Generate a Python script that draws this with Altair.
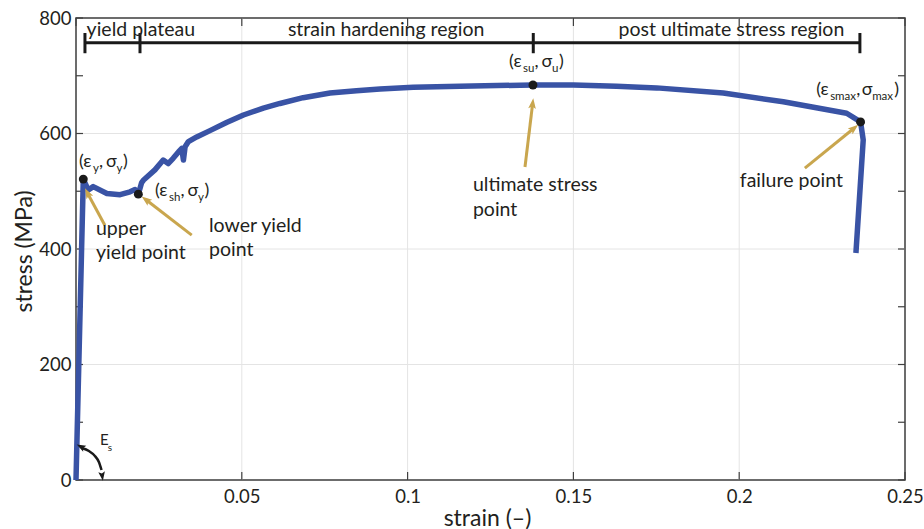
import math
import altair as alt
import pandas as pd

# ---------------- layout constants ----------------
W, H = 829, 462
X_MAX, Y_MAX = 0.25, 800
PX_X = W / X_MAX          # px per unit strain
PX_Y = H / Y_MAX          # px per MPa
FONT = "Lato, Open Sans, DejaVu Sans, sans-serif"
TXT = "#231F20"
BLUE = "#3953A5"
GOLD = "#C9A64E"

# ---------------- data ----------------
strain = [0.0, 0.0022, 0.0037, 0.0052, 0.0093, 0.0133, 0.0163, 0.0178, 0.0188,
          0.0198, 0.0203, 0.0238, 0.0263, 0.0278, 0.0293, 0.0309, 0.0319, 0.0324,
          0.0329, 0.0339, 0.0364, 0.0404, 0.0454, 0.0505, 0.0565, 0.0615, 0.0685,
          0.0766, 0.0846, 0.0917, 0.1017, 0.1158, 0.1270,
          0.1378, 0.1500, 0.1630, 0.1751, 0.1952, 0.2133, 0.2324, 0.2366, 0.2374, 0.2352]
stress = [0, 521, 502, 508, 496, 494, 499, 503, 495,
          515, 519, 537, 554, 548, 557, 568, 574, 554,
          577, 586, 594, 605, 619, 632, 644, 652, 662,
          670, 674, 677, 680, 682, 683,
          684, 684, 682, 679, 670, 655, 635, 620, 589, 393]

key_strain = [0.0022, 0.0188, 0.1378, 0.2366]
key_stress = [521, 495, 684, 620]

x_label_values = [0.05, 0.1, 0.15, 0.2, 0.25]
x_tick_values = [0, 0.05, 0.1, 0.15, 0.2, 0.25]
x_grid = [0.05, 0.1, 0.15, 0.2]
y_label_values = [0, 200, 400, 600, 800]
y_tick_values = [0, 100, 200, 300, 400, 500, 600, 700, 800]
y_grid = [200, 400, 600]

# region bracket
bracket_x = [0.0027, 0.0193, 0.1379, 0.2364]
bracket_y = 757
bracket_lo, bracket_hi = 739, 774
region_text = ["yield plateau", "strain hardening region", "post ultimate stress region"]
region_x = [0.0032, 0.0639, 0.1636]
region_y = [768, 768, 768]

# point symbol labels: anchor (strain, stress) and pieces (text, dx px, subscript?)
sym_x = [0.0009, 0.0238, 0.1306, 0.2232]
sym_y = [542, 492, 715, 667]
sym_parts = [
    [("(ε", 0, 0), ("y", 14, 1), (",", 20, 0), ("σ", 27, 0), ("y", 37.5, 1), (")", 44, 0)],
    [("(ε", 0, 0), ("sh", 14, 1), (",", 25.5, 0), ("σ", 32.5, 0), ("y", 43, 1), (")", 49.5, 0)],
    [("(ε", 0, 0), ("su", 14, 1), (",", 25.5, 0), ("σ", 32.5, 0), ("u", 43, 1), (")", 50, 0)],
    [("(ε", 0, 0), ("smax", 14, 1), (",", 40, 0), ("σ", 45.5, 0), ("max", 56, 1), (")", 78, 0)],
]

# descriptive annotations
note_text = ["upper", "yield point", "lower yield", "point", "ultimate stress", "point", "failure point"]
note_x = [0.0060, 0.0060, 0.0401, 0.0401, 0.1197, 0.1197, 0.2002]
note_y = [424, 383, 429, 388, 500, 458, 507]

# gold arrows: tail -> tip
arrow_tail_x = [0.0087, 0.0349, 0.1354, 0.2198]
arrow_tail_y = [441, 424, 542, 540]
arrow_tip_x = [0.0027, 0.0198, 0.1379, 0.2359]
arrow_tip_y = [505, 491, 661, 615]

# elastic modulus arc
es_arc_x = [0.0018, 0.0039, 0.0057, 0.0069, 0.0077]
es_arc_y = [55.4, 50.2, 41.6, 31.2, 17.3]
es_head_x = [0.0015, 0.0079]
es_head_y = [57.5, 7.0]
es_head_angle = [298, 172]
es_text = ["E", "s"]
es_text_x = [0.0072, 0.0096]
es_text_y = [60.6, 50.2]
es_text_size = [15, 10]

# ---------------- scales / axes ----------------
xs = alt.Scale(domain=[0, X_MAX], nice=False, zero=False)
ys = alt.Scale(domain=[0, Y_MAX], nice=False, zero=False)
x_axis = alt.Axis(values=x_label_values, format=".2~f", grid=False, ticks=False, domain=False,
                  labelFont=FONT, labelFontSize=18.5, labelColor=TXT, labelPadding=7,
                  labelFlush=False, labelOverlap=False,
                  title="strain (–)", titleFont=FONT, titleFontSize=23, titleFontWeight="normal",
                  titleColor=TXT, titleX=411, titleY=45, titleBaseline="alphabetic")
y_axis = alt.Axis(values=y_label_values, grid=False, ticks=False, domain=False,
                  labelFont=FONT, labelFontSize=18.5, labelColor=TXT, labelPadding=5,
                  labelFlush=False, labelOverlap=False, labelBaseline="middle",
                  title="stress (MPa)", titleFont=FONT, titleFontSize=23, titleFontWeight="normal",
                  titleColor=TXT, titleX=-52, titleY=233, titleBaseline="middle", titleAngle=270)


def X(f):
    return alt.X(f"{f}:Q", scale=xs, axis=x_axis)


def Y(f):
    return alt.Y(f"{f}:Q", scale=ys, axis=y_axis)


# ---------------- layers ----------------
grid_x = alt.Chart(pd.DataFrame({"x": x_grid})).mark_rule(color="#E4E4E4", strokeWidth=1).encode(x=X("x"))
grid_y = alt.Chart(pd.DataFrame({"y": y_grid})).mark_rule(color="#E4E4E4", strokeWidth=1).encode(y=Y("y"))

tick_style = dict(color="#404040", strokeWidth=1.2)
xt = pd.DataFrame({"x": x_tick_values})
yt = pd.DataFrame({"y": y_tick_values})
ticks_bottom = alt.Chart(xt).mark_rule(**tick_style).encode(x=X("x"), y=alt.value(H), y2=alt.value(H - 8))
ticks_top = alt.Chart(xt).mark_rule(**tick_style).encode(x=X("x"), y=alt.value(0), y2=alt.value(8))
ticks_left = alt.Chart(yt).mark_rule(**tick_style).encode(y=Y("y"), x=alt.value(0), x2=alt.value(7))
ticks_right = alt.Chart(yt).mark_rule(**tick_style).encode(y=Y("y"), x=alt.value(W), x2=alt.value(W - 7))

bracket_df = pd.DataFrame({"x": [bracket_x[0]], "x2": [bracket_x[-1]], "y": [bracket_y]})
bracket_line = alt.Chart(bracket_df).mark_rule(color="#1a1a1a", strokeWidth=3).encode(
    x=X("x"), x2="x2:Q", y=Y("y"))
bt_df = pd.DataFrame({"x": bracket_x, "y": [bracket_lo] * 4, "y2": [bracket_hi] * 4})
bracket_ticks = alt.Chart(bt_df).mark_rule(color="#1a1a1a", strokeWidth=3).encode(
    x=X("x"), y=Y("y"), y2="y2:Q")
region_df = pd.DataFrame({"x": region_x, "y": region_y, "t": region_text})
region_labels = alt.Chart(region_df).mark_text(
    align="left", baseline="alphabetic", font=FONT, fontSize=19.5, color=TXT).encode(
    x=X("x"), y=Y("y"), text="t:N")

curve_df = pd.DataFrame({"x": strain, "y": stress, "i": list(range(len(strain)))})
curve = alt.Chart(curve_df).mark_line(color=BLUE, strokeWidth=5.5, strokeJoin="round", strokeCap="butt").encode(
    x=X("x"), y=Y("y"), order="i:Q")

# arrows
HEAD_PATH = "M0,-1L0.7,0.9L0,0.5L-0.7,0.9Z"
HEAD_SIZE = 120
head_half = math.sqrt(HEAD_SIZE) / 2
rows_shaft, rows_head = [], []
for tx, ty, px_, py_ in zip(arrow_tail_x, arrow_tail_y, arrow_tip_x, arrow_tip_y):
    ddx = (px_ - tx) * PX_X
    ddy = -(py_ - ty) * PX_Y
    L = math.hypot(ddx, ddy)
    ux, uy = ddx / L, ddy / L
    cx = px_ - ux * head_half / PX_X
    cy = py_ + uy * head_half / PX_Y
    ang = math.degrees(math.atan2(ddx, -ddy)) % 360
    rows_shaft.append({"x": tx, "y": ty, "x2": cx, "y2": cy})
    rows_head.append({"x": cx, "y": cy, "a": ang})
shafts = alt.Chart(pd.DataFrame(rows_shaft)).mark_rule(color=GOLD, strokeWidth=3).encode(
    x=X("x"), y=Y("y"), x2="x2:Q", y2="y2:Q")
heads = alt.Chart(pd.DataFrame(rows_head)).mark_point(
    shape=HEAD_PATH, filled=True, color=GOLD, opacity=1, size=HEAD_SIZE, strokeWidth=0).encode(
    x=X("x"), y=Y("y"), angle=alt.Angle("a:Q", scale=None))

dots = alt.Chart(pd.DataFrame({"x": key_strain, "y": key_stress})).mark_circle(
    color="#1a1a1a", opacity=1, size=80).encode(x=X("x"), y=Y("y"))

# symbol labels
rows_sym = []
for ax, ay, parts in zip(sym_x, sym_y, sym_parts):
    for t, dx, sub in parts:
        rows_sym.append({"x": ax + dx / PX_X, "y": ay - (5 if sub else 0) / PX_Y,
                         "t": t, "s": 11.5 if sub else 18})
sym_labels = alt.Chart(pd.DataFrame(rows_sym)).mark_text(
    align="left", baseline="alphabetic", font=FONT, color=TXT).encode(
    x=X("x"), y=Y("y"), text="t:N", size=alt.Size("s:Q", scale=None))

notes = alt.Chart(pd.DataFrame({"x": note_x, "y": note_y, "t": note_text})).mark_text(
    align="left", baseline="alphabetic", font=FONT, fontSize=19.5, color=TXT).encode(
    x=X("x"), y=Y("y"), text="t:N")

# E_s arc
es_arc = alt.Chart(pd.DataFrame({"x": es_arc_x, "y": es_arc_y, "i": list(range(len(es_arc_x)))})).mark_line(
    color="#1a1a1a", strokeWidth=2.5, interpolate="monotone").encode(x=X("x"), y=Y("y"), order="i:Q")
es_heads = alt.Chart(pd.DataFrame({"x": es_head_x, "y": es_head_y, "a": es_head_angle})).mark_point(
    shape=HEAD_PATH, filled=True, color="#1a1a1a", opacity=1, size=90, strokeWidth=0).encode(
    x=X("x"), y=Y("y"), angle=alt.Angle("a:Q", scale=None))
es_label = alt.Chart(pd.DataFrame({"x": es_text_x, "y": es_text_y, "t": es_text, "s": es_text_size})).mark_text(
    align="left", baseline="alphabetic", font=FONT, color=TXT).encode(
    x=X("x"), y=Y("y"), text="t:N", size=alt.Size("s:Q", scale=None))

chart = alt.layer(
    grid_x, grid_y, ticks_bottom, ticks_top, ticks_left, ticks_right,
    bracket_line, bracket_ticks, region_labels,
    curve, shafts, heads, dots, sym_labels, notes, es_arc, es_heads, es_label,
).properties(
    width=W, height=H,
    autosize=alt.AutoSizeParams(type="none"),
    padding={"left": 76, "top": 18, "right": 924 - 76 - W, "bottom": 529 - 18 - H},
    background="white",
).configure_view(stroke="#3c3c3c", strokeWidth=1.5)

chart.save("out.html", embed_options={"renderer": "svg", "actions": False})
